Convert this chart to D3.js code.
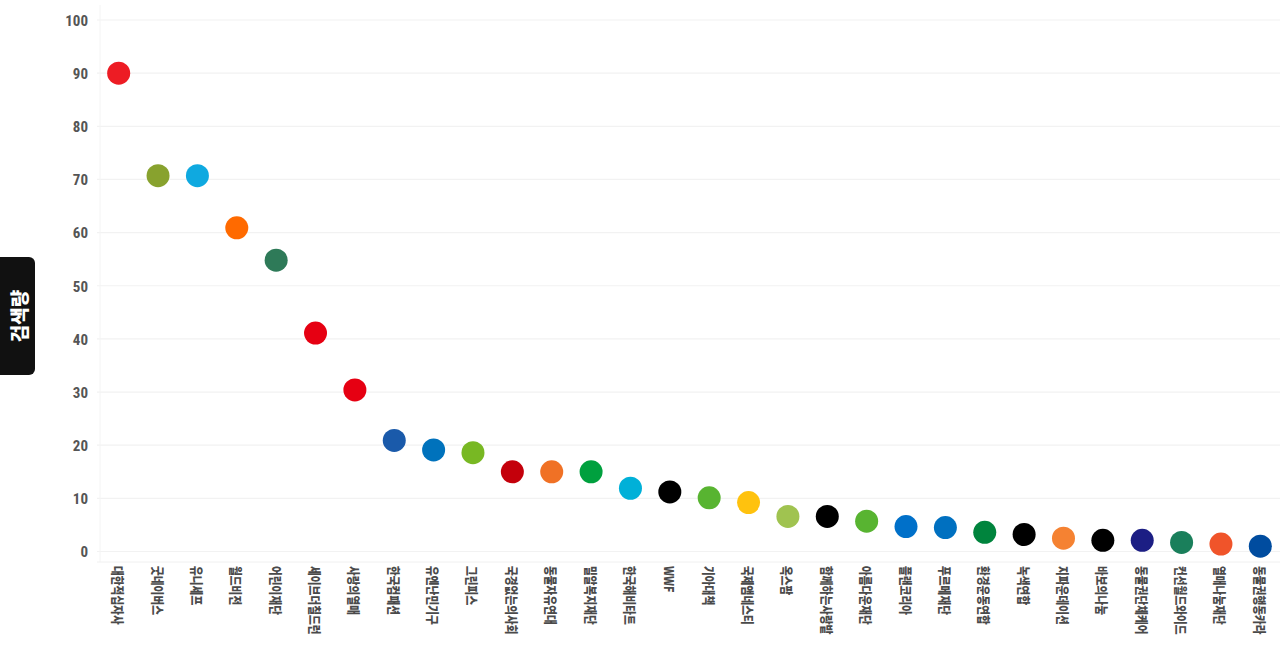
<!DOCTYPE html>
<html><head><meta charset="utf-8">
<script src="https://cdn.jsdelivr.net/npm/d3@7"></script>
<style>
html,body{margin:0;padding:0;background:#fff;overflow:hidden;}
</style></head>
<body><svg id="c" width="1280" height="649"></svg>
<script>
const categories = ["대한적십자사","굿네이버스","유니세프","월드비전","어린이재단","세이브더칠드런","사랑의열매","한국컴패션","유엔난민기구","그린피스","국경없는의사회","동물자유연대","밀알복지재단","한국해비타트","WWF","기아대책","국제앰네스티","옥스팜","함께하는사랑밭","아름다운재단","플랜코리아","푸르메재단","환경운동연합","녹색연합","지파운데이션","바보의나눔","동물권단체케어","컨선월드와이드","열매나눔재단","동물권행동카라"];
const values = [90.0,70.7,70.7,60.9,54.8,41.1,30.4,20.9,19.1,18.6,15.0,15.0,15.0,11.9,11.2,10.1,9.2,6.6,6.6,5.7,4.7,4.5,3.6,3.2,2.5,2.1,2.1,1.7,1.4,1.0];
const colors = ["#ed1c24","#88a22e","#0fa9e0","#ff6a00","#2e7a58","#e60012","#e60012","#1a5aaa","#0072bc","#78b823","#c4000b","#f07125","#00a03e","#00b0d8","#000000","#58b431","#ffc20e","#a0c350","#000000","#58b431","#0070c9","#0070c0","#00843d","#000000","#f58232","#000000","#1c1e84","#1a7f5b","#f0542a","#004c9f"];
const yTicks = [0,10,20,30,40,50,60,70,80,90,100];
const yTitle = "검색량";

const svg = d3.select("#c");
const x = d3.scalePoint().domain(categories).range([99,1280]).padding(0.5);
const y = d3.scaleLinear().domain([0,100]).range([551.5,20]);

// gridlines
svg.append("g").selectAll("line").data(yTicks).join("line")
  .attr("x1",97).attr("x2",1280)
  .attr("y1",d=>y(d)).attr("y2",d=>y(d))
  .attr("stroke","#f2f2f2").attr("stroke-width",1.2);
svg.append("line").attr("x1",100).attr("x2",100).attr("y1",5).attr("y2",562)
  .attr("stroke","#f4f4f4").attr("stroke-width",1);
svg.append("line").attr("x1",97).attr("x2",1280).attr("y1",562).attr("y2",562)
  .attr("stroke","#f0f0f0").attr("stroke-width",1);

// y axis
const yAxis = d3.axisLeft(y).tickValues(yTicks).tickSize(0).tickPadding(0);
const gy = svg.append("g").attr("transform","translate(88,0)").call(yAxis);
gy.select(".domain").remove();
gy.selectAll("text").attr("font-family","'Liberation Sans Narrow','Roboto Condensed',sans-serif")
  .attr("font-weight","bold").attr("font-size","15px").attr("fill","#555").attr("dy","0.35em");

// x axis
const xAxis = d3.axisBottom(x).tickSize(0).tickPadding(0);
const gx = svg.append("g").attr("transform","translate(0,566)").call(xAxis);
gx.select(".domain").remove();
gx.selectAll("text")
  .attr("font-family","'Noto Sans CJK KR',sans-serif").attr("font-weight","900")
  .attr("font-size","13px").attr("fill","#4a4a4a")
  .attr("text-anchor","start").attr("dy",null).attr("y",0)
  .attr("transform","rotate(90) scale(0.82,1)")
  .attr("dominant-baseline","central");

// dots
svg.append("g").selectAll("circle").data(categories).join("circle")
  .attr("cx",d=>x(d)).attr("cy",(d,i)=>y(values[i]))
  .attr("r",11.5).attr("fill",(d,i)=>colors[i]);

// y title box
svg.append("rect").attr("x",-8).attr("y",257).attr("width",43).attr("height",118)
  .attr("rx",6).attr("ry",6).attr("fill","#111");
svg.append("text").attr("transform","translate(18,316) rotate(-90)")
  .attr("text-anchor","middle").attr("dominant-baseline","central")
  .attr("font-family","'Noto Sans CJK KR',sans-serif").attr("font-weight","900")
  .attr("font-size","19px").attr("fill","#fff").text(yTitle);
</script></body></html>
